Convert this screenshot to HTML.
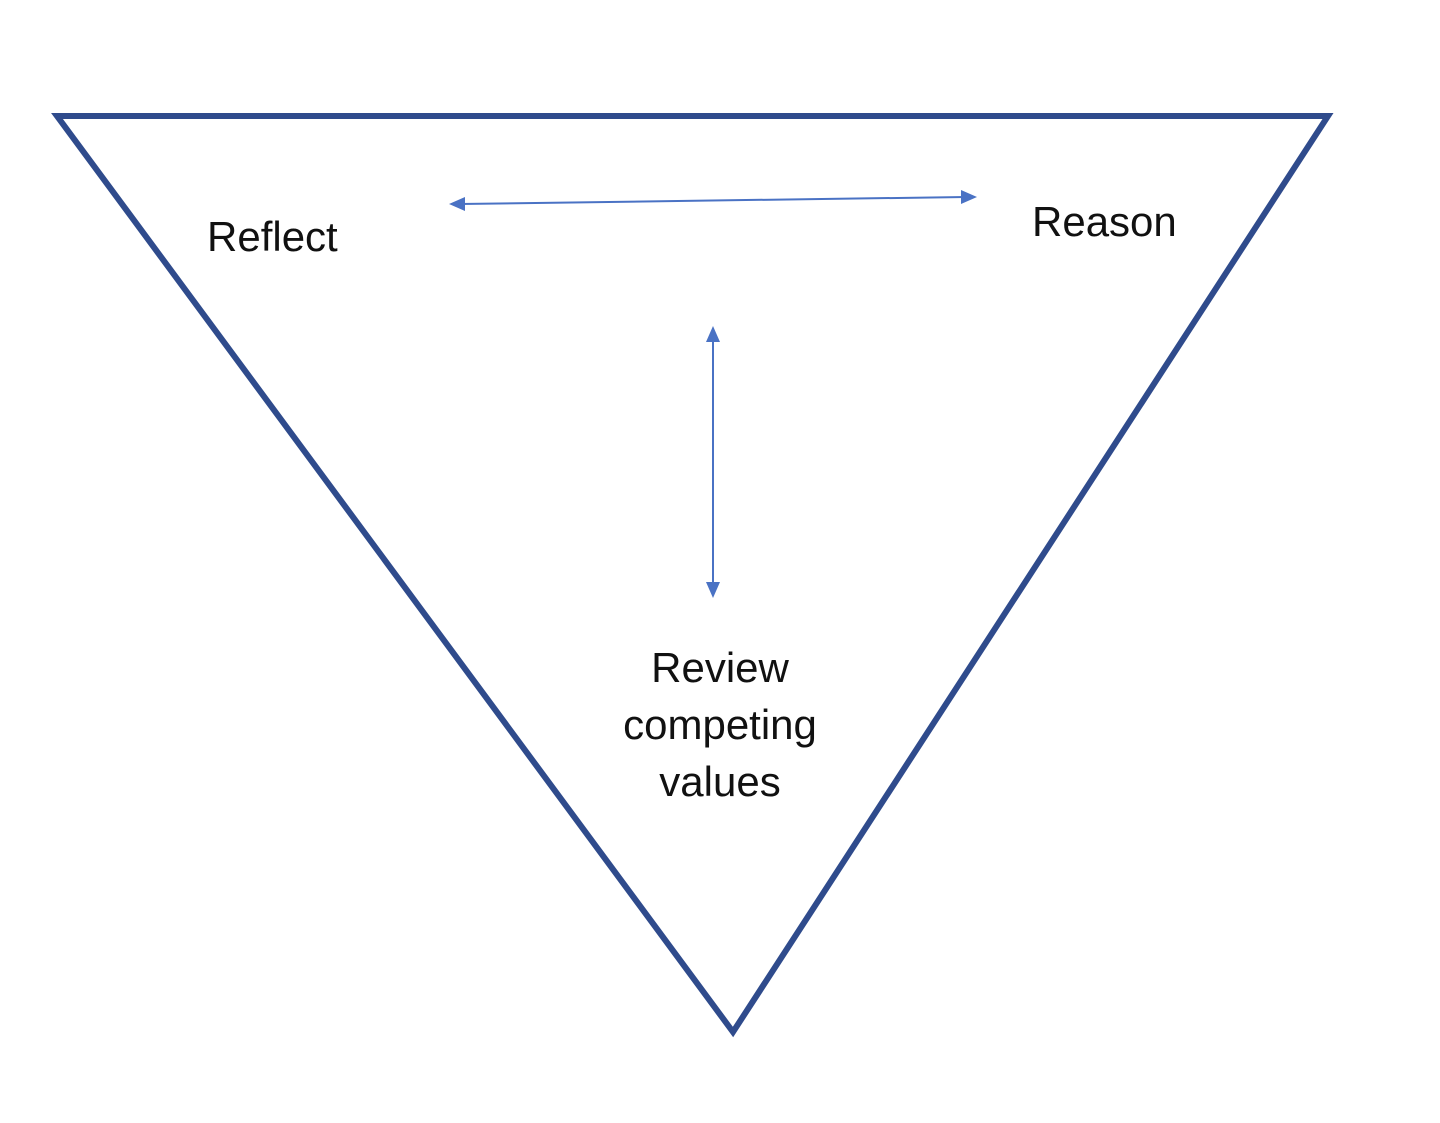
<!DOCTYPE html>
<html><head><meta charset="utf-8"><style>
html,body{margin:0;padding:0;background:#fff;}
svg{display:block;}
text{font-family:"Liberation Sans",sans-serif;fill:#111;}
</style></head><body>
<svg width="1440" height="1123" viewBox="0 0 1440 1123" xmlns="http://www.w3.org/2000/svg">
<polygon points="57,116 1328,116 733,1032" fill="none" stroke="#2f4b8c" stroke-width="6" stroke-linejoin="miter"/>
<g stroke="#4a72c4" stroke-width="2" fill="#4a72c4">
<line x1="460" y1="204" x2="966" y2="197"/>
<polygon points="449,204 465,197 465,211" stroke="none"/>
<polygon points="977,197 961,190 961,204" stroke="none"/>
<line x1="713" y1="338" x2="713" y2="587"/>
<polygon points="713,326 706,342 720,342" stroke="none"/>
<polygon points="713,598 706,582 720,582" stroke="none"/>
</g>
<text x="207" y="251" font-size="42">Reflect</text>
<text x="1032" y="236" font-size="42">Reason</text>
<text x="720" y="682" font-size="42" text-anchor="middle">Review</text>
<text x="720" y="739" font-size="42" text-anchor="middle">competing</text>
<text x="720" y="796" font-size="42" text-anchor="middle">values</text>
</svg>
</body></html>
